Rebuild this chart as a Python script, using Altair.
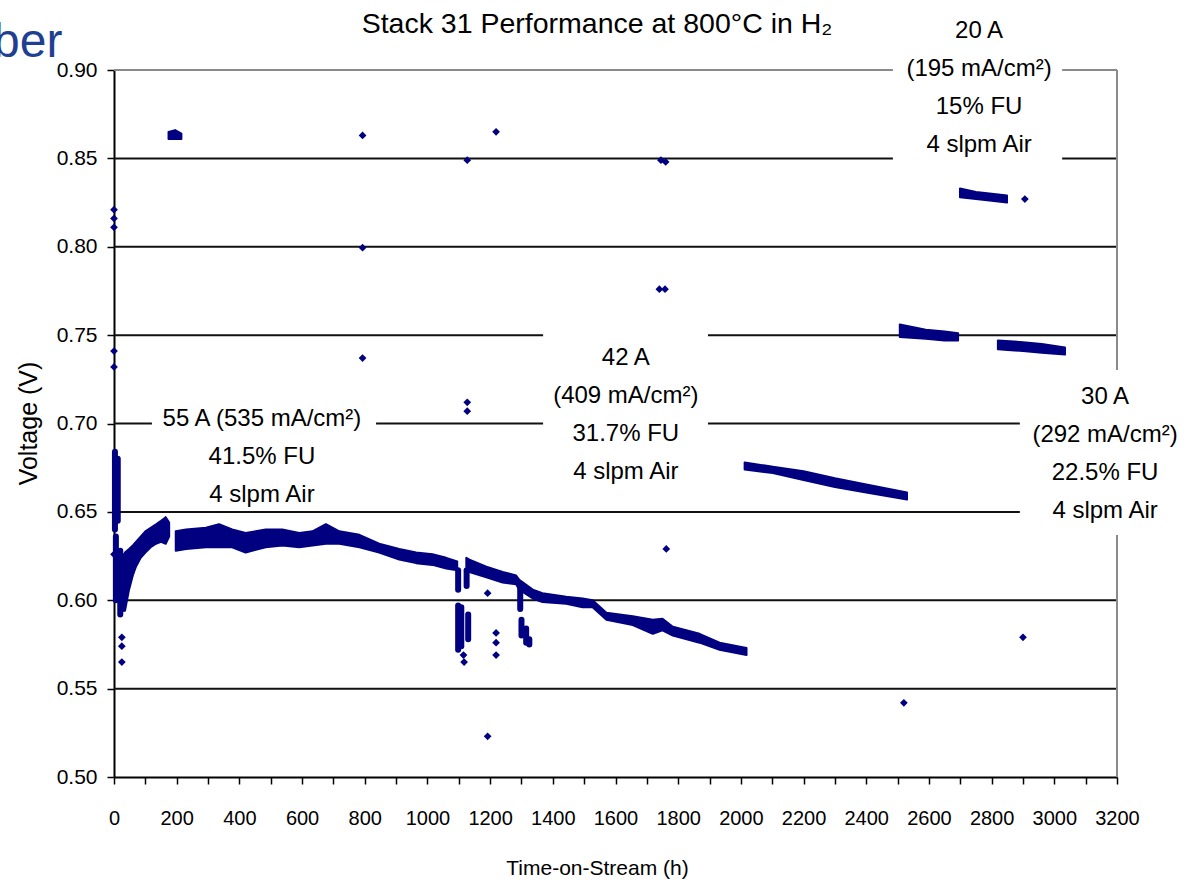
import altair as alt
import pandas as pd

NAVY = "#000080"
FONT = "Liberation Sans"

# ---- continuous stretches of readings: time (h), lowest / highest voltage (V)
seg_early_t = [35, 48, 60, 70, 85, 100, 117, 134, 150, 165, 176]
seg_early_lo = [0.594, 0.606, 0.614, 0.619, 0.624, 0.627, 0.630, 0.632, 0.633, 0.632, 0.636]
seg_early_hi = [0.627, 0.629, 0.631, 0.633, 0.636, 0.639, 0.641, 0.643, 0.645, 0.647, 0.644]

seg_ocv_t = [174, 195, 215]
seg_ocv_lo = [0.861, 0.861, 0.861]
seg_ocv_hi = [0.865, 0.866, 0.864]

seg_55a_t = [197, 230, 293, 335, 377, 420, 484, 537, 591, 633, 676, 719, 783, 846,
             910, 964, 1016, 1060, 1095]
seg_55a_lo = [0.628, 0.629, 0.630, 0.630, 0.630, 0.627, 0.630, 0.631, 0.630, 0.631,
              0.632, 0.632, 0.630, 0.627, 0.623, 0.621, 0.620, 0.618, 0.617]
seg_55a_hi = [0.639, 0.640, 0.641, 0.643, 0.640, 0.638, 0.640, 0.640, 0.638, 0.639,
              0.643, 0.639, 0.637, 0.632, 0.629, 0.627, 0.626, 0.624, 0.622]

seg_55b_t = [1124, 1134, 1188, 1240, 1283, 1293, 1336, 1367, 1443, 1495, 1527, 1571,
             1655, 1719, 1750, 1783, 1868, 1932, 2018]
seg_55b_lo = [0.619, 0.616, 0.613, 0.610, 0.609, 0.606, 0.601, 0.599, 0.598, 0.596,
              0.596, 0.589, 0.586, 0.581, 0.583, 0.580, 0.576, 0.572, 0.569]
seg_55b_hi = [0.624, 0.623, 0.619, 0.616, 0.614, 0.6115, 0.606, 0.604, 0.602, 0.601,
              0.600, 0.593, 0.591, 0.589, 0.5895, 0.585, 0.581, 0.576, 0.573]

seg_42a_t = [2012, 2102, 2200, 2300, 2400, 2530]
seg_42a_lo = [0.674, 0.672, 0.668, 0.664, 0.661, 0.657]
seg_42a_hi = [0.678, 0.6755, 0.673, 0.669, 0.6655, 0.661]

seg_30a_t = [2507, 2590, 2650, 2693]
seg_30a_lo = [0.749, 0.748, 0.747, 0.747]
seg_30a_hi = [0.756, 0.753, 0.752, 0.751]

seg_20a_t = [2699, 2750, 2800, 2849]
seg_20a_lo = [0.828, 0.827, 0.826, 0.825]
seg_20a_hi = [0.833, 0.831, 0.830, 0.829]

seg_30b_t = [2820, 2900, 2960, 3034]
seg_30b_lo = [0.742, 0.741, 0.740, 0.739]
seg_30b_hi = [0.747, 0.746, 0.745, 0.743]

# ---- short vertical excursions (transients): time, lowest, highest voltage
spike_t = [3, 12, 6, 20, 28, 1098, 1108, 1130, 1098, 1125, 1296, 1300, 1315, 1325]
spike_lo = [0.640, 0.645, 0.600, 0.592, 0.595, 0.572, 0.574, 0.578, 0.606, 0.608,
            0.595, 0.580, 0.576, 0.575]
spike_hi = [0.684, 0.680, 0.636, 0.628, 0.625, 0.597, 0.596, 0.592, 0.617, 0.617,
            0.607, 0.589, 0.584, 0.578]

# ---- isolated readings
point_t = [0, 0, 0, 0, 0, 0, 25, 25, 25, 793, 793, 793, 1127, 1127, 1127, 1219,
           1115, 1117, 1192, 1192, 1219, 1219, 1219, 1740, 1758, 1745, 1760, 1762,
           2520, 2906, 2900]
point_v = [0.821, 0.816, 0.811, 0.741, 0.732, 0.626, 0.579, 0.574, 0.565, 0.863,
           0.7995, 0.737, 0.849, 0.712, 0.707, 0.865, 0.569, 0.565, 0.604, 0.523,
           0.5815, 0.576, 0.569, 0.776, 0.776, 0.849, 0.848, 0.629, 0.542, 0.827,
           0.579]

# ---- operating-condition notes (anchor = centre of the first line)
note_text = [
    "55 A (535 mA/cm²)\n41.5% FU\n4 slpm Air",
    "42 A\n(409 mA/cm²)\n31.7% FU\n4 slpm Air",
    "20 A\n(195 mA/cm²)\n15% FU\n4 slpm Air",
    "30 A\n(292 mA/cm²)\n22.5% FU\n4 slpm Air",
]
note_t = [472, 1633, 2760, 3162]
note_v = [0.7025, 0.7371, 0.9221, 0.7150]
note_box_t0 = [121, 1369, 2485, 2890]
note_box_t1 = [836, 1895, 3025, 3446]
note_box_v0 = [0.6539, 0.6596, 0.8427, 0.6369]
note_box_v1 = [0.7133, 0.7529, 0.9351, 0.7303]

grid_levels = [0.55, 0.60, 0.65, 0.70, 0.75, 0.80, 0.85]
y_ticks = [0.50, 0.55, 0.60, 0.65, 0.70, 0.75, 0.80, 0.85, 0.90]
x_ticks = list(range(0, 3201, 100))

TITLE = "Stack 31 Performance at 800°C in H₂"

W, H = 1003, 707

# ---- tables
segments = [
    ("early", seg_early_t, seg_early_lo, seg_early_hi),
    ("ocv", seg_ocv_t, seg_ocv_lo, seg_ocv_hi),
    ("55a", seg_55a_t, seg_55a_lo, seg_55a_hi),
    ("55b", seg_55b_t, seg_55b_lo, seg_55b_hi),
    ("42a", seg_42a_t, seg_42a_lo, seg_42a_hi),
    ("30a", seg_30a_t, seg_30a_lo, seg_30a_hi),
    ("20a", seg_20a_t, seg_20a_lo, seg_20a_hi),
    ("30b", seg_30b_t, seg_30b_lo, seg_30b_hi),
]
band_rows = []
for name, ts, los, his in segments:
    for t, lo, hi in zip(ts, los, his):
        band_rows.append({"seg": name, "t": t, "lo": lo, "hi": hi})
bands = pd.DataFrame(band_rows)
spikes = pd.DataFrame({"t": spike_t, "lo": spike_lo, "hi": spike_hi})
points = pd.DataFrame({"t": point_t, "v": point_v})
notes = pd.DataFrame({"text": note_text, "t": note_t, "v": note_v,
                      "t0": note_box_t0, "t1": note_box_t1,
                      "v0": note_box_v0, "v1": note_box_v1})
grid = pd.DataFrame({"v": grid_levels})

# ---- shared scales / axes
x_scale = alt.Scale(domain=[0, 3200], nice=False, zero=False)
y_scale = alt.Scale(domain=[0.5, 0.9], nice=False, zero=False)

x_axis = alt.Axis(
    values=x_ticks, format="d",
    labelExpr="datum.value % 200 == 0 ? datum.label : ''",
    title="Time-on-Stream (h)", grid=False,
    domainColor="black", domainWidth=2,
    tickColor="black", tickWidth=1.5, tickSize=7,
    labelFont=FONT, labelFontSize=20, labelColor="black", labelPadding=24,
    labelFlush=False, labelOverlap=False,
    titleFont=FONT, titleFontSize=21, titleFontWeight="normal", titleColor="black",
    titleX=483, titleY=91, titleBaseline="middle",
)
y_axis = alt.Axis(
    values=y_ticks, format=".2f",
    title="Voltage (V)", grid=False,
    domainColor="black", domainWidth=2,
    tickColor="black", tickWidth=1.5, tickSize=7,
    labelFont=FONT, labelFontSize=21, labelColor="black", labelPadding=10,
    labelFlush=False, labelOverlap=False,
    titleFont=FONT, titleFontSize=25, titleFontWeight="normal", titleColor="black",
    titleX=-86, titleY=353, titleBaseline="middle",
)


def X(field):
    return alt.X(field, type="quantitative", scale=x_scale, axis=x_axis)


def Y(field):
    return alt.Y(field, type="quantitative", scale=y_scale, axis=y_axis)


gridlines = alt.Chart(grid).mark_rule(color="#111111", strokeWidth=2).encode(
    y=Y("v"), x=alt.value(0), x2=alt.value(W)
)
top_border = alt.Chart(pd.DataFrame({"v": [0.9]})).mark_rule(
    color="#8a8a8a", strokeWidth=2
).encode(y=Y("v"), x=alt.value(0), x2=alt.value(W))
right_border = alt.Chart(pd.DataFrame({"t": [3200]})).mark_rule(
    color="#8a8a8a", strokeWidth=2
).encode(x=X("t"), y=alt.value(0), y2=alt.value(H))

note_boxes = alt.Chart(notes).mark_rect(fill="white", stroke=None).encode(
    x=X("t0"), x2="t1", y=Y("v0"), y2="v1"
)

band_layer = alt.Chart(bands).mark_area(
    color=NAVY, stroke=NAVY, strokeWidth=2, strokeJoin="round", opacity=1
).encode(x=X("t"), y=Y("lo"), y2="hi", detail="seg:N")

spike_layer = alt.Chart(spikes).mark_rule(
    color=NAVY, strokeWidth=6, strokeCap="round"
).encode(x=X("t"), y=Y("lo"), y2="hi")

point_layer = alt.Chart(points).mark_point(
    shape="diamond", filled=True, size=60, color=NAVY, opacity=1
).encode(x=X("t"), y=Y("v"))

note_layer = alt.Chart(notes).mark_text(
    font=FONT, fontSize=24, lineBreak="\n", lineHeight=38,
    align="center", baseline="middle", color="black"
).encode(x=X("t"), y=Y("v"), text="text:N")

title_layer = alt.Chart(pd.DataFrame({"s": [TITLE]})).mark_text(
    font=FONT, fontSize=28.5, align="center", baseline="middle", color="black"
).encode(text="s:N", x=alt.value(483), y=alt.value(-46))

heading_layer = alt.Chart(pd.DataFrame({"s": ["ber"]})).mark_text(
    font=FONT, fontSize=48, align="left", baseline="alphabetic", color="#1f3f92"
).encode(text="s:N", x=alt.value(-121), y=alt.value(-13))

chart = alt.layer(
    gridlines, top_border, right_border, note_boxes,
    band_layer, spike_layer, point_layer,
    note_layer, title_layer, heading_layer,
).properties(
    width=W, height=H,
    autosize=alt.AutoSizeParams(type="none"),
    padding={"left": 114, "top": 70, "right": 77, "bottom": 105},
    background="white",
).configure_view(stroke=None)

chart.save("out.html", embed_options={"renderer": "svg", "actions": False})
